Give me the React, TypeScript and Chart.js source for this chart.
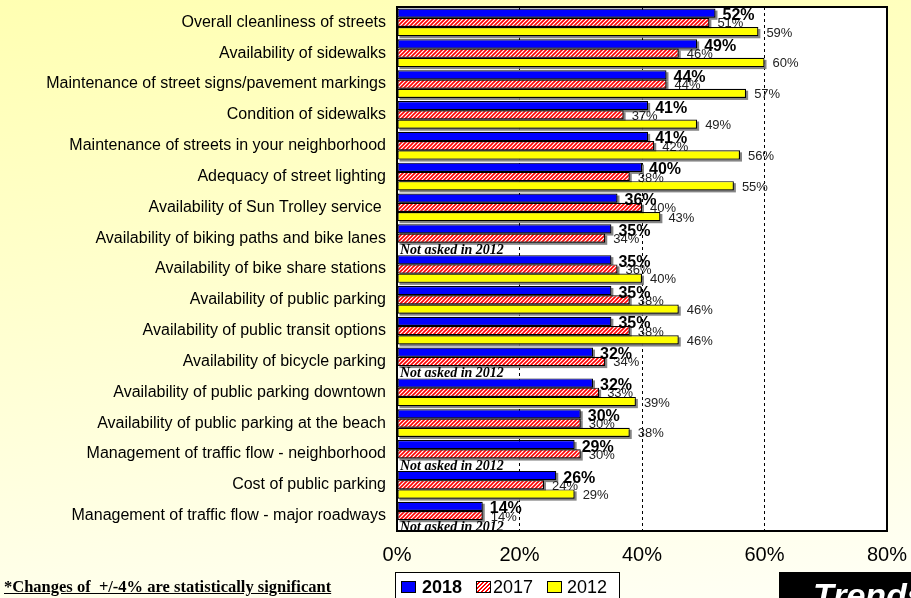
import React, { useEffect, useRef } from "react";
import { Chart, registerables } from "chart.js";
Chart.register(...registerables);

const categories = [
  "Overall cleanliness of streets",
  "Availability of sidewalks",
  "Maintenance of street signs/pavement markings",
  "Condition of sidewalks",
  "Maintenance of streets in your neighborhood",
  "Adequacy of street lighting",
  "Availability of Sun Trolley service ",
  "Availability of biking paths and bike lanes",
  "Availability of bike share stations",
  "Availability of public parking",
  "Availability of public transit options",
  "Availability of bicycle parking",
  "Availability of public parking downtown",
  "Availability of public parking at the beach",
  "Management of traffic flow - neighborhood",
  "Cost of public parking",
  "Management of traffic flow - major roadways",
];

const values2018 = [52, 49, 44, 41, 41, 40, 36, 35, 35, 35, 35, 32, 32, 30, 29, 26, 14];
const values2017 = [51, 46, 44, 37, 42, 38, 40, 34, 36, 38, 38, 34, 33, 30, 30, 24, 14];
const values2012: (number | null)[] = [59, 60, 57, 49, 56, 55, 43, null, 40, 46, 46, null, 39, 38, null, 29, null];
const seriesNames = ["2018", "2017", "2012"];
const xTicks = [0, 20, 40, 60, 80];
const notAskedText = "Not asked in 2012";
const footnote = "*Changes of  +/-4% are statistically significant";
const badgeText = "Trends";

const SANS = "'Liberation Sans', Arial, sans-serif";
const SERIF = "'Liberation Serif', 'Times New Roman', serif";

const zeroPad = (s: any) => {
  s.paddingTop = 0;
  s.paddingBottom = 0;
  s.paddingLeft = 0;
  s.paddingRight = 0;
};

const decorPlugin = {
  id: "decor",
  beforeDraw(chart: any) {
    const { ctx, chartArea: a } = chart;
    ctx.save();
    ctx.fillStyle = "#ffffff";
    ctx.fillRect(a.left, a.top, a.right - a.left, a.bottom - a.top);
    ctx.restore();
  },
  beforeDatasetsDraw(chart: any) {
    const ctx = chart.ctx;
    ctx.save();
    ctx.fillStyle = "rgba(120,120,120,0.9)";
    chart.data.datasets.forEach((ds: any, di: number) => {
      const meta = chart.getDatasetMeta(di);
      meta.data.forEach((el: any, i: number) => {
        if (ds.data[i] == null) return;
        const { x, y, base, height } = el.getProps(["x", "y", "base", "height"], true);
        ctx.fillRect(base + 2, y - height / 2 + 2, x - base, height);
      });
    });
    const meta1 = chart.getDatasetMeta(1);
    ctx.font = `13px ${SANS}`;
    ctx.fillStyle = "#222";
    ctx.textBaseline = "alphabetic";
    ctx.textAlign = "left";
    meta1.data.forEach((el: any, i: number) => {
      const v = values2017[i];
      if (v == null) return;
      const { x, y } = el.getProps(["x", "y"], true);
      ctx.fillText(v + "%", x + 8, y + 5);
    });
    ctx.restore();
  },
  afterDatasetsDraw(chart: any) {
    const ctx = chart.ctx;
    const a = chart.chartArea;
    ctx.save();
    ctx.textAlign = "left";
    ctx.textBaseline = "alphabetic";
    const meta2 = chart.getDatasetMeta(2);
    ctx.font = `13px ${SANS}`;
    ctx.fillStyle = "#222";
    meta2.data.forEach((el: any, i: number) => {
      const v = values2012[i];
      if (v == null) return;
      const { x, y } = el.getProps(["x", "y"], true);
      ctx.fillText(v + "%", x + 8, y + 5);
    });
    const meta1 = chart.getDatasetMeta(1);
    ctx.font = `italic bold 14px ${SERIF}`;
    ctx.fillStyle = "#000";
    meta1.data.forEach((el: any, i: number) => {
      if (values2012[i] != null) return;
      const { y, height } = el.getProps(["y", "height"], true);
      ctx.fillText(notAskedText, a.left + 3, y + height + 6.5);
    });
    const meta0 = chart.getDatasetMeta(0);
    ctx.font = `bold 16px ${SANS}`;
    ctx.fillStyle = "#000";
    meta0.data.forEach((el: any, i: number) => {
      const v = values2018[i];
      if (v == null) return;
      const { x, y } = el.getProps(["x", "y"], true);
      ctx.fillText(v + "%", x + 7, y + 7);
    });
    ctx.restore();
  },
  afterDraw(chart: any) {
    const { ctx, chartArea: a } = chart;
    ctx.save();
    ctx.strokeStyle = "#000";
    ctx.lineWidth = 2;
    ctx.strokeRect(a.left, a.top, a.right - a.left, a.bottom - a.top);
    ctx.restore();
  },
};

export default function App() {
  const canvasRef = useRef<HTMLCanvasElement | null>(null);

  useEffect(() => {
    const canvas = canvasRef.current;
    if (!canvas) return;
    const ctx = canvas.getContext("2d")!;
    const pc = document.createElement("canvas");
    pc.width = 4;
    pc.height = 4;
    const p = pc.getContext("2d")!;
    p.fillStyle = "#ffffff";
    p.fillRect(0, 0, 4, 4);
    p.strokeStyle = "#ff0000";
    p.lineWidth = 1.6;
    p.beginPath();
    p.moveTo(0, 4);
    p.lineTo(4, 0);
    p.moveTo(-1, 1);
    p.lineTo(1, -1);
    p.moveTo(3, 5);
    p.lineTo(5, 3);
    p.stroke();
    const hatch = ctx.createPattern(pc, "repeat");

    const common = {
      borderColor: "#000",
      borderWidth: 1.2,
      borderSkipped: false,
      categoryPercentage: 0.9,
      barPercentage: 1.0,
    };

    const chart = new Chart(canvas, {
      type: "bar",
      data: {
        labels: categories,
        datasets: [
          { label: seriesNames[0], data: values2018, backgroundColor: "#0000ff", ...common },
          { label: seriesNames[1], data: values2017, backgroundColor: hatch as any, ...common },
          { label: seriesNames[2], data: values2012, backgroundColor: "#ffff00", ...common },
        ],
      } as any,
      options: {
        indexAxis: "y",
        responsive: false,
        animation: false,
        events: [],
        layout: { padding: { top: 7, right: 24, left: 0, bottom: 0 } },
        plugins: { legend: { display: false }, tooltip: { enabled: false } },
        scales: {
          x: {
            type: "linear",
            min: xTicks[0],
            max: xTicks[xTicks.length - 1],
            afterBuildTicks: (s: any) => {
              s.ticks = xTicks.map((v) => ({ value: v }));
            },
            afterFit: (s: any) => {
              s.height = 67;
              zeroPad(s);
            },
            ticks: {
              callback: (v: any) => v + "%",
              font: { family: SANS, size: 20 },
              color: "#000",
              padding: 12,
              maxRotation: 0,
            },
            grid: {
              color: (c: any) =>
                c.tick && (c.tick.value === xTicks[0] || c.tick.value === xTicks[xTicks.length - 1])
                  ? "rgba(0,0,0,0)"
                  : "#000",
              lineWidth: 1,
              drawTicks: false,
            },
            border: { display: false, dash: [3, 3] },
          },
          y: {
            type: "category",
            afterFit: (s: any) => {
              s.width = 397;
              zeroPad(s);
            },
            ticks: {
              font: { family: SANS, size: 16 },
              color: "#000",
              padding: 11,
              autoSkip: false,
            },
            grid: { display: false, drawTicks: false },
            border: { display: false },
          },
        },
      } as any,
      plugins: [decorPlugin],
    });
    return () => chart.destroy();
  }, []);

  const legendText: React.CSSProperties = {
    position: "absolute",
    top: 578,
    fontFamily: SANS,
    fontSize: 18,
    lineHeight: "18px",
    color: "#000",
    whiteSpace: "pre",
  };
  const sw: React.CSSProperties = {
    position: "absolute",
    top: 581,
    width: 13,
    height: 10,
    border: "1px solid #000",
  };

  return (
    <div
      style={{
        position: "absolute",
        left: 0,
        top: 0,
        width: 911,
        height: 598,
        overflow: "hidden",
        background: "linear-gradient(172deg, #ffffb2 0%, #ffffd0 45%, #fffff6 100%)",
      }}
    >
      <canvas ref={canvasRef} width={911} height={598} style={{ position: "absolute", left: 0, top: 0 }} />
      <div
        style={{
          position: "absolute",
          left: 4,
          top: 579,
          fontFamily: SERIF,
          fontWeight: "bold",
          fontSize: 16.5,
          lineHeight: "16px",
          textDecoration: "underline",
          whiteSpace: "pre",
          color: "#000",
        }}
      >
        {footnote}
      </div>
      <div
        style={{
          position: "absolute",
          left: 395,
          top: 572,
          width: 223,
          height: 40,
          border: "1px solid #000",
          background: "#fff",
        }}
      />
      <div style={{ ...sw, left: 401, background: "#0000ff" }} />
      <div style={{ ...legendText, left: 422, fontWeight: "bold" }}>{seriesNames[0]}</div>
      <div
        style={{
          ...sw,
          left: 476,
          background: "repeating-linear-gradient(135deg, #ffffff 0px, #ffffff 1.4px, #ff0000 1.4px, #ff0000 2.8px)",
        }}
      />
      <div style={{ ...legendText, left: 493 }}>{seriesNames[1]}</div>
      <div style={{ ...sw, left: 547, background: "#ffff00" }} />
      <div style={{ ...legendText, left: 567 }}>{seriesNames[2]}</div>
      <div
        style={{
          position: "absolute",
          left: 779,
          top: 572,
          width: 140,
          height: 40,
          background: "#000",
          overflow: "hidden",
        }}
      >
        <div
          style={{
            position: "absolute",
            left: 34,
            top: 5.5,
            fontFamily: SANS,
            fontWeight: "bold",
            fontStyle: "italic",
            fontSize: 34,
            lineHeight: "34px",
            color: "#fff",
            whiteSpace: "pre",
          }}
        >
          {badgeText}
        </div>
      </div>
    </div>
  );
}
